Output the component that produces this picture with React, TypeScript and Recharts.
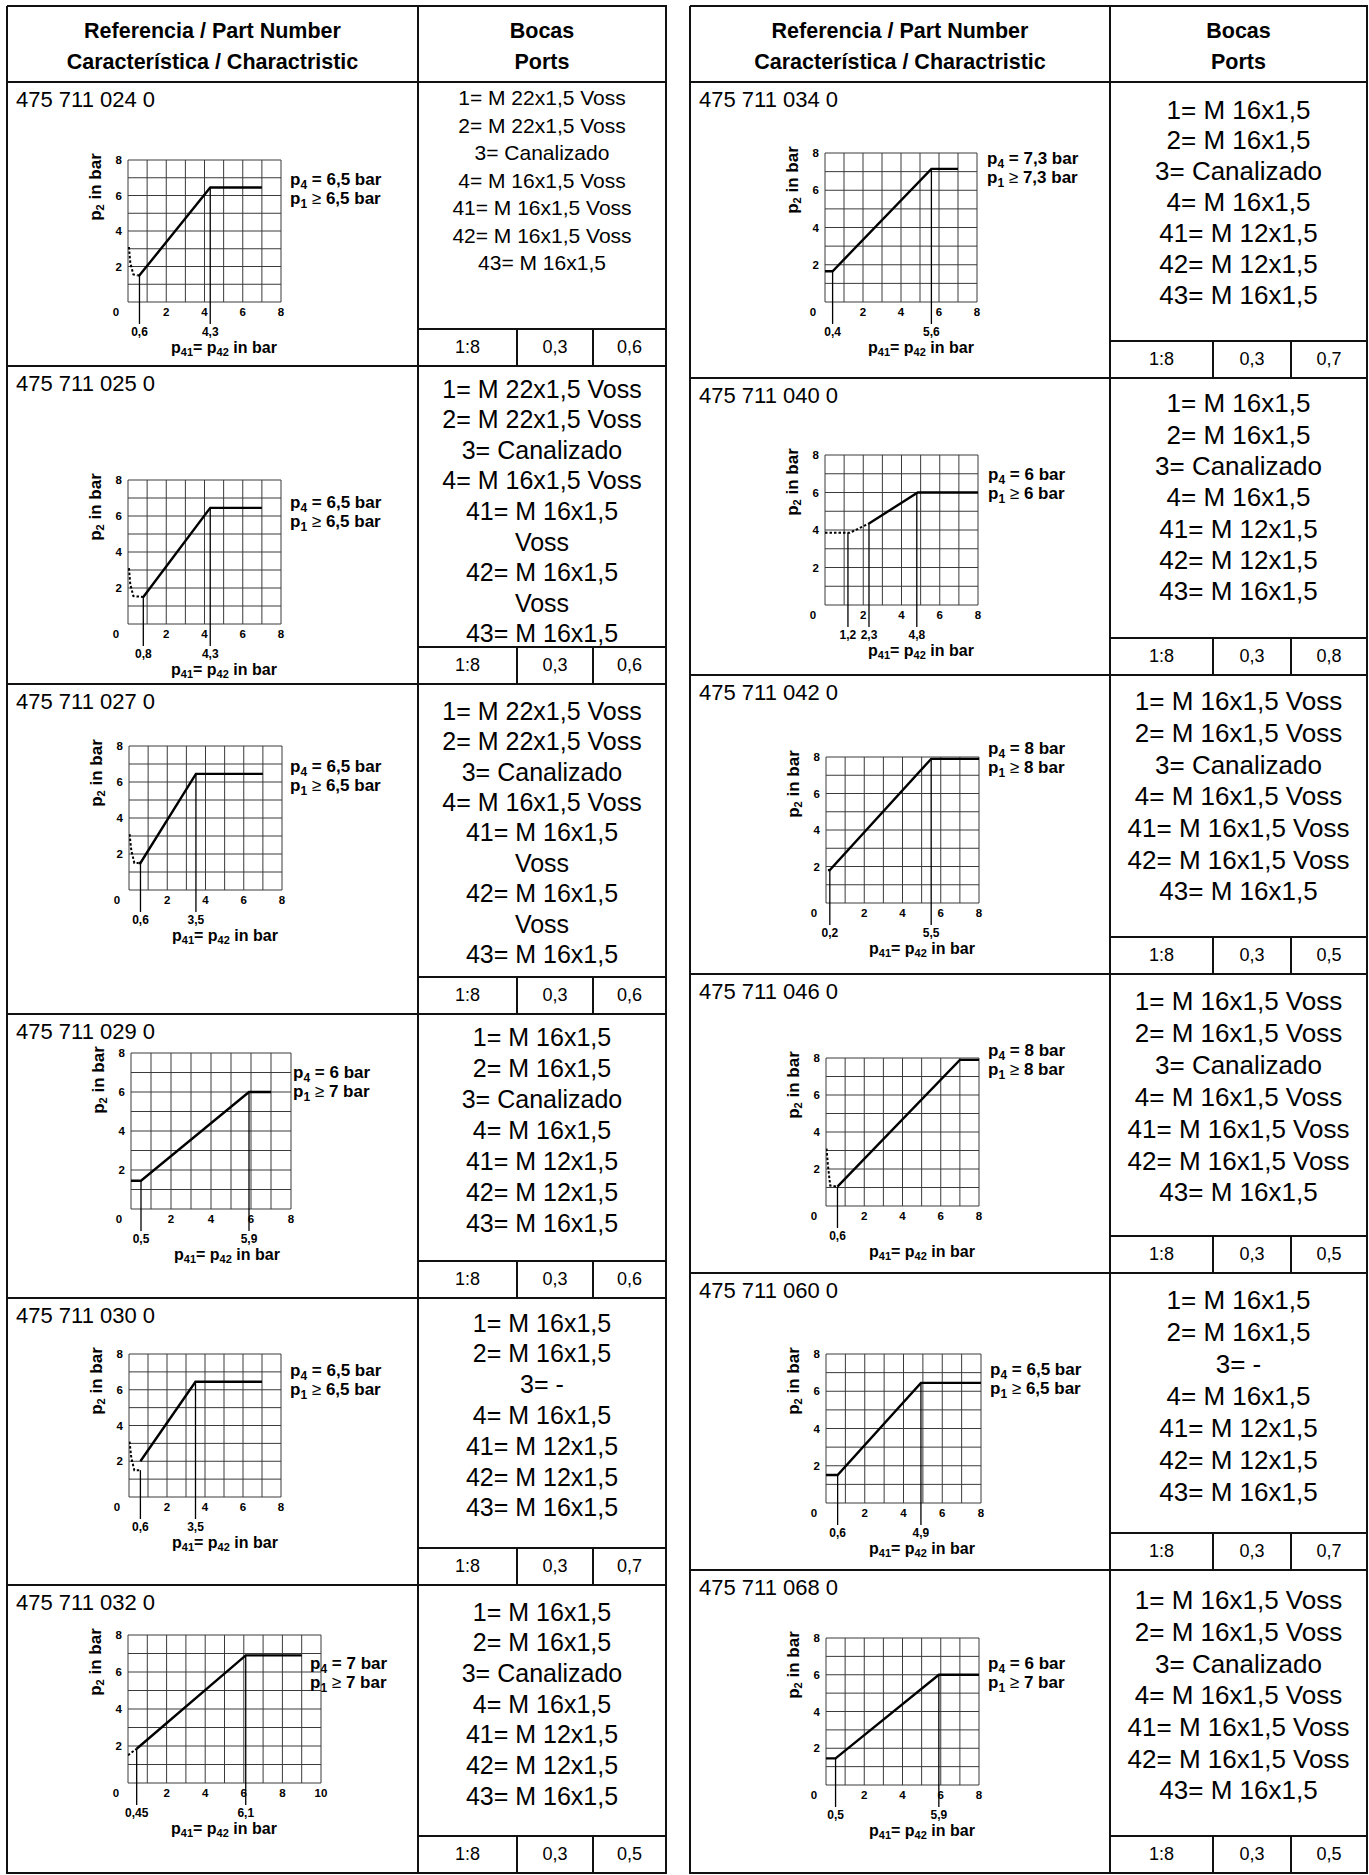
// @ts-nocheck
import React from 'react'
import { ComposedChart, Line, XAxis, YAxis, ReferenceLine } from 'recharts'

const FONT = '"Liberation Sans", Arial, Helvetica, sans-serif'

// ---- table content ----
const leftParts = ['475 711 024 0', '475 711 025 0', '475 711 027 0', '475 711 029 0', '475 711 030 0', '475 711 032 0']
const rightParts = ['475 711 034 0', '475 711 040 0', '475 711 042 0', '475 711 046 0', '475 711 060 0', '475 711 068 0']

const portsVoss22 = ['1= M 22x1,5 Voss', '2= M 22x1,5 Voss', '3= Canalizado', '4= M 16x1,5 Voss', '41= M 16x1,5 Voss', '42= M 16x1,5 Voss', '43= M 16x1,5']
const portsVoss22Wrapped = ['1= M 22x1,5 Voss', '2= M 22x1,5 Voss', '3= Canalizado', '4= M 16x1,5 Voss', '41= M 16x1,5', 'Voss', '42= M 16x1,5', 'Voss', '43= M 16x1,5']
const portsPlain = ['1= M 16x1,5', '2= M 16x1,5', '3= Canalizado', '4= M 16x1,5', '41= M 12x1,5', '42= M 12x1,5', '43= M 16x1,5']
const portsNoThree = ['1= M 16x1,5', '2= M 16x1,5', '3= -', '4= M 16x1,5', '41= M 12x1,5', '42= M 12x1,5', '43= M 16x1,5']
const portsVoss16 = ['1= M 16x1,5 Voss', '2= M 16x1,5 Voss', '3= Canalizado', '4= M 16x1,5 Voss', '41= M 16x1,5 Voss', '42= M 16x1,5 Voss', '43= M 16x1,5']

const leftPorts = [portsVoss22, portsVoss22Wrapped, portsVoss22Wrapped, portsPlain, portsNoThree, portsPlain]
const rightPorts = [portsPlain, portsPlain, portsVoss16, portsVoss16, portsNoThree, portsVoss16]

const ratioCells = ['1:8', '0,3']
const leftFactor = ['0,6', '0,6', '0,6', '0,6', '0,7', '0,5']
const rightFactor = ['0,7', '0,8', '0,5', '0,5', '0,7', '0,5']

const leftP4 = ['6,5', '6,5', '6,5', '6', '6,5', '7']
const leftP1 = ['6,5', '6,5', '6,5', '7', '6,5', '7']
const rightP4 = ['7,3', '6', '8', '8', '6,5', '6']
const rightP1 = ['7,3', '6', '8', '8', '6,5', '7']

// ---- chart values (p41 = p42 -> p2) ----
const yTicks = [2, 4, 6, 8]
const xTicks8 = [0, 2, 4, 6, 8]
const xTicks10 = [0, 2, 4, 6, 8, 10]
const gridY = [0, 1, 2, 3, 4, 5, 6, 7, 8]
const gridX8 = [0, 1, 2, 3, 4, 5, 6, 7, 8]
const gridX10 = [0, 1, 2, 3, 4, 5, 6, 7, 8, 9, 10]

const solid024 = [{ x: 0.5, y: 1.5 }, { x: 0.6, y: 1.5 }, { x: 4.3, y: 6.45 }, { x: 7, y: 6.45 }]
const dashed024 = [{ x: 0.05, y: 3.1 }, { x: 0.12, y: 2.2 }, { x: 0.28, y: 1.55 }, { x: 0.5, y: 1.5 }]
const knees024 = [{ x: 0.6, y: 1.5 }, { x: 4.3, y: 6.45 }]

const solid025 = [{ x: 0.8, y: 1.5 }, { x: 4.3, y: 6.45 }, { x: 7, y: 6.45 }]
const dashed025 = [{ x: 0.05, y: 3.1 }, { x: 0.12, y: 2.2 }, { x: 0.28, y: 1.55 }, { x: 0.8, y: 1.5 }]
const knees025 = [{ x: 0.8, y: 1.5 }, { x: 4.3, y: 6.45 }]

const solid027 = [{ x: 0.5, y: 1.5 }, { x: 0.6, y: 1.5 }, { x: 3.5, y: 6.45 }, { x: 7, y: 6.45 }]
const dashed027 = [{ x: 0.03, y: 3.1 }, { x: 0.12, y: 2.2 }, { x: 0.28, y: 1.5 }, { x: 0.5, y: 1.5 }]
const knees027 = [{ x: 0.6, y: 1.5 }, { x: 3.5, y: 6.45 }]

const solid029 = [{ x: 0, y: 1.45 }, { x: 0.5, y: 1.45 }, { x: 5.9, y: 6 }, { x: 7, y: 6 }]
const knees029 = [{ x: 0.5, y: 1.45 }, { x: 5.9, y: 6 }]

const solid030 = [{ x: 0.6, y: 2 }, { x: 3.5, y: 6.45 }, { x: 7, y: 6.45 }]
const dashed030 = [{ x: 0.03, y: 3.1 }, { x: 0.12, y: 2.2 }, { x: 0.28, y: 1.5 }, { x: 0.6, y: 1.5 }]
const knees030 = [{ x: 0.6, y: 1.5 }, { x: 3.5, y: 6.45 }]

const solid032 = [{ x: 0.45, y: 1.85 }, { x: 6.1, y: 6.9 }, { x: 9, y: 6.9 }]
const dashed032 = [{ x: 0, y: 1.5 }, { x: 0.45, y: 1.85 }]
const knees032 = [{ x: 0.45, y: 1.85 }, { x: 6.1, y: 6.9 }]

const solid034 = [{ x: 0, y: 1.65 }, { x: 0.4, y: 1.65 }, { x: 5.6, y: 7.15 }, { x: 7, y: 7.15 }]
const knees034 = [{ x: 0.4, y: 1.65 }, { x: 5.6, y: 7.15 }]

const solid040 = [{ x: 2.3, y: 4.35 }, { x: 4.85, y: 6 }, { x: 8, y: 6 }]
const dashed040 = [{ x: 0, y: 3.85 }, { x: 1.3, y: 3.85 }, { x: 2.3, y: 4.35 }]
const knees040 = [{ x: 1.2, y: 3.85 }, { x: 2.3, y: 4.35 }, { x: 4.8, y: 6 }]

const solid042 = [{ x: 0.1, y: 1.8 }, { x: 0.2, y: 1.8 }, { x: 5.5, y: 7.9 }, { x: 8, y: 7.9 }]
const knees042 = [{ x: 0.2, y: 1.8 }, { x: 5.5, y: 7.9 }]

const solid046 = [{ x: 0.6, y: 1.05 }, { x: 7, y: 7.9 }, { x: 8, y: 7.9 }]
const dashed046 = [{ x: 0.03, y: 3.1 }, { x: 0.1, y: 2.2 }, { x: 0.22, y: 1.1 }, { x: 0.6, y: 1.05 }]
const knees046 = [{ x: 0.6, y: 1.05 }]

const solid060 = [{ x: 0, y: 1.5 }, { x: 0.6, y: 1.5 }, { x: 4.9, y: 6.45 }, { x: 8, y: 6.45 }]
const knees060 = [{ x: 0.6, y: 1.5 }, { x: 4.9, y: 6.45 }]

const solid068 = [{ x: 0, y: 1.45 }, { x: 0.5, y: 1.45 }, { x: 5.9, y: 6 }, { x: 8, y: 6 }]
const knees068 = [{ x: 0.5, y: 1.45 }, { x: 5.9, y: 6 }]

const leftSolid = [solid024, solid025, solid027, solid029, solid030, solid032]
const leftDashed = [dashed024, dashed025, dashed027, null, dashed030, dashed032]
const leftKnees = [knees024, knees025, knees027, knees029, knees030, knees032]
const leftXMax = [8, 8, 8, 8, 8, 10]
const rightSolid = [solid034, solid040, solid042, solid046, solid060, solid068]
const rightDashed = [null, dashed040, null, dashed046, null, null]
const rightKnees = [knees034, knees040, knees042, knees046, knees060, knees068]
const rightXMax = [8, 8, 8, 8, 8, 8]

// ---- layout (page pixels) ----
const LEFT_X = [7, 418, 517, 593, 666]
const RIGHT_X = [690, 1110, 1213, 1291, 1367]
const TOP = 6
const HEAD = 82
const SUB_H = 37
const leftBottoms = [366, 684, 1014, 1298, 1585, 1873]
const rightBottoms = [378, 675, 974, 1273, 1570, 1873]
// grid box: left, right, top, bottom
const leftBoxes = [[128, 281, 160, 302], [128, 281, 480, 624], [129, 282, 746, 890], [131, 291, 1053, 1209], [129, 281, 1354, 1497], [128, 321, 1635, 1783]]
const rightBoxes = [[825, 977, 153, 302], [825, 978, 455, 605], [826, 979, 757, 903], [826, 979, 1058, 1206], [826, 981, 1354, 1503], [826, 979, 1638, 1785]]
const leftNote = [[9, 19], [9, 22], [8, 20], [2, 19], [9, 16], [-11, 28]]
const rightNote = [[10, 5], [10, 19], [9, -9], [9, -8], [9, 15], [9, 25]]
// font size, line height, first line centre offset
const leftPortsFmt = [[21, 27.5, 16], [25, 30.6, 23], [25, 30.4, 27], [25, 31, 23], [25, 30.8, 25], [25, 30.7, 27]]
const rightPortsFmt = [[26, 30.9, 28], [26, 31.3, 26], [26, 31.7, 27], [26, 31.9, 28], [26, 32, 27], [26, 31.7, 31]]

const ML = 52
const MT = 14
const MR = 10
const XH1 = 18
const XH2 = 56
const LINE = '#111'
const GRID = '#3a3a3a'

const fmt = (v) => String(v).replace('.', ',')

function YTitle({ viewBox }) {
  if (!viewBox) return null
  const cx = viewBox.x + viewBox.width - 33
  const cy = viewBox.y + 27
  return (
    <text x={cx} y={cy} transform={`rotate(-90 ${cx} ${cy})`} textAnchor="middle" dominantBaseline="central"
      fontFamily={FONT} fontWeight={700} fontSize={17} fill="#000">
      p<tspan dy={5} fontSize={11}>2</tspan><tspan dy={-5}>{' in bar'}</tspan>
    </text>
  )
}

function XTitle({ viewBox }) {
  if (!viewBox) return null
  const x0 = viewBox.x + 43
  const y0 = viewBox.y + 27
  return (
    <text x={x0} y={y0} dominantBaseline="central" fontFamily={FONT} fontWeight={700} fontSize={16} fill="#000">
      p<tspan dy={5} fontSize={11}>41</tspan><tspan dy={-5}>{'= p'}</tspan><tspan dy={5} fontSize={11}>42</tspan><tspan dy={-5}>{' in bar'}</tspan>
    </text>
  )
}

function PressureChart({ box, xMax, solid, dashed, knees }) {
  const [gl, gr, gt, gb] = box
  const plotW = gr - gl
  const plotH = gb - gt
  const below = -22 / (plotH / 8)
  const gridX = xMax === 10 ? gridX10 : gridX8
  return (
    <div style={{ position: 'absolute', left: gl - ML, top: gt - MT }}>
      <ComposedChart width={ML + plotW + MR} height={MT + plotH + XH1 + XH2} margin={{ top: MT, right: MR, left: 0, bottom: 0 }}>
        <XAxis type="number" dataKey="x" domain={[0, xMax]} ticks={xMax === 10 ? xTicks10 : xTicks8} interval={0}
          allowDataOverflow axisLine={false} tickLine={false} tickSize={0} tickMargin={0} height={XH1}
          tick={({ x, y, payload }) => (
            <text x={payload.value === 0 ? x - 12 : x} y={y + 10} textAnchor="middle" dominantBaseline="central"
              fontFamily={FONT} fontWeight={700} fontSize={11.5} fill="#000">{payload.value}</text>
          )} />
        <XAxis xAxisId="k" type="number" dataKey="x" domain={[0, xMax]} ticks={knees.map((k) => k.x)} interval={0}
          allowDataOverflow axisLine={false} tickLine={false} tickSize={0} tickMargin={0} height={XH2}
          tick={({ x, y, payload }) => (
            <text x={x} y={y + 12} textAnchor="middle" dominantBaseline="central"
              fontFamily={FONT} fontWeight={700} fontSize={12} fill="#000">{fmt(payload.value)}</text>
          )}
          label={<XTitle />} />
        <YAxis type="number" domain={[0, 8]} ticks={yTicks} interval={0} width={ML} allowDataOverflow
          axisLine={false} tickLine={false} tickSize={0} tickMargin={0}
          tick={({ x, y, payload }) => (
            <text x={x - 6} y={y} textAnchor="end" dominantBaseline="central"
              fontFamily={FONT} fontWeight={700} fontSize={11.5} fill="#000">{payload.value}</text>
          )}
          label={<YTitle />} />
        {gridX.map((v) => (
          <ReferenceLine key={'gx' + v} x={v} stroke={GRID} strokeWidth={1} />
        ))}
        {gridY.map((v) => (
          <ReferenceLine key={'gy' + v} y={v} stroke={GRID} strokeWidth={1} />
        ))}
        {knees.map((k) => (
          <ReferenceLine key={'k' + k.x} xAxisId="k" ifOverflow="visible" stroke="#000" strokeWidth={1.3}
            segment={[{ x: k.x, y: k.y }, { x: k.x, y: below }]} />
        ))}
        {dashed && (
          <Line data={dashed} dataKey="y" type="linear" stroke="#000" strokeWidth={2} strokeDasharray="2.5 2"
            dot={false} activeDot={false} isAnimationActive={false} />
        )}
        <Line data={solid} dataKey="y" type="linear" stroke="#000" strokeWidth={2.4}
          dot={false} activeDot={false} isAnimationActive={false} />
      </ComposedChart>
    </div>
  )
}

const subStyle = { fontSize: 12, position: 'relative', top: 4 }

function PressureNote({ left, top, p4, p1 }) {
  return (
    <div style={{ position: 'absolute', left, top, fontFamily: FONT, fontWeight: 700, fontSize: 17, lineHeight: '17px', whiteSpace: 'nowrap', color: '#000' }}>
      <div>p<span style={subStyle}>4</span> = {p4} bar</div>
      <div>p<span style={subStyle}>1</span> <span style={{ fontWeight: 400 }}>≥</span> {p1} bar</div>
    </div>
  )
}

const HLine = ({ x1, x2, y }) => <div style={{ position: 'absolute', left: x1, top: y - 1, width: x2 - x1 + 1, height: 2, background: LINE }} />
const VLine = ({ x, y1, y2 }) => <div style={{ position: 'absolute', left: x - 1, top: y1, width: 2, height: y2 - y1 + 1, background: LINE }} />

function CenterText({ x1, x2, y, size, bold, children }) {
  return (
    <div style={{ position: 'absolute', left: x1, width: x2 - x1, top: y - size * 0.6, height: size * 1.2, lineHeight: size * 1.2 + 'px',
      textAlign: 'center', fontFamily: FONT, fontSize: size, fontWeight: bold ? 700 : 400, color: '#000', whiteSpace: 'nowrap' }}>
      {children}
    </div>
  )
}

function Table({ X, bottoms, parts, ports, portsFmt, factor, boxes, notes, p4, p1, solids, dashes, knees, xMax }) {
  const out = []
  const bottom = bottoms[bottoms.length - 1]
  out.push(<HLine key="top" x1={X[0]} x2={X[4]} y={TOP} />)
  out.push(<HLine key="head" x1={X[0]} x2={X[4]} y={HEAD} />)
  out.push(<VLine key="l" x={X[0]} y1={TOP} y2={bottom} />)
  out.push(<VLine key="m" x={X[1]} y1={TOP} y2={bottom} />)
  out.push(<VLine key="r" x={X[4]} y1={TOP} y2={bottom} />)
  out.push(<CenterText key="h1" x1={X[0]} x2={X[1]} y={32} size={21.5} bold>Referencia / Part Number</CenterText>)
  out.push(<CenterText key="h2" x1={X[0]} x2={X[1]} y={63} size={21.5} bold>Característica / Charactristic</CenterText>)
  out.push(<CenterText key="h3" x1={X[1]} x2={X[4]} y={32} size={21.5} bold>Bocas</CenterText>)
  out.push(<CenterText key="h4" x1={X[1]} x2={X[4]} y={63} size={21.5} bold>Ports</CenterText>)
  bottoms.forEach((b, i) => {
    const top = i === 0 ? HEAD : bottoms[i - 1]
    const sub = b - SUB_H
    out.push(<HLine key={'rb' + i} x1={X[0]} x2={X[4]} y={b} />)
    out.push(<HLine key={'sb' + i} x1={X[1]} x2={X[4]} y={sub} />)
    out.push(<VLine key={'s1' + i} x={X[2]} y1={sub} y2={b} />)
    out.push(<VLine key={'s2' + i} x={X[3]} y1={sub} y2={b} />)
    const subY = (sub + b) / 2
    out.push(<CenterText key={'r1' + i} x1={X[1]} x2={X[2]} y={subY} size={18}>{ratioCells[0]}</CenterText>)
    out.push(<CenterText key={'r2' + i} x1={X[2]} x2={X[3]} y={subY} size={18}>{ratioCells[1]}</CenterText>)
    out.push(<CenterText key={'r3' + i} x1={X[3]} x2={X[4]} y={subY} size={18}>{factor[i]}</CenterText>)
    out.push(
      <div key={'pn' + i} style={{ position: 'absolute', left: X[0] + 9, top: top + 7, fontFamily: FONT, fontSize: 22, lineHeight: '22px', color: '#000', whiteSpace: 'nowrap' }}>
        {parts[i]}
      </div>
    )
    const [fs, lh, off] = portsFmt[i]
    out.push(
      <div key={'po' + i} style={{ position: 'absolute', left: X[1], width: X[4] - X[1], top: top + off - lh / 2, textAlign: 'center',
        fontFamily: FONT, fontSize: fs, lineHeight: lh + 'px', color: '#000', whiteSpace: 'nowrap' }}>
        {ports[i].map((t, j) => <div key={j}>{t}</div>)}
      </div>
    )
    const box = boxes[i]
    out.push(<PressureChart key={'c' + i} box={box} xMax={xMax[i]} solid={solids[i]} dashed={dashes[i]} knees={knees[i]} />)
    out.push(<PressureNote key={'n' + i} left={box[1] + notes[i][0]} top={box[2] + notes[i][1] - 8.5} p4={p4[i]} p1={p1[i]} />)
  })
  return out
}

export default function App() {
  return (
    <div style={{ position: 'absolute', left: 0, top: 0, width: 1369, height: 1875, background: '#fff', overflow: 'hidden' }}>
      <Table X={LEFT_X} bottoms={leftBottoms} parts={leftParts} ports={leftPorts} portsFmt={leftPortsFmt} factor={leftFactor}
        boxes={leftBoxes} notes={leftNote} p4={leftP4} p1={leftP1} solids={leftSolid} dashes={leftDashed} knees={leftKnees} xMax={leftXMax} />
      <Table X={RIGHT_X} bottoms={rightBottoms} parts={rightParts} ports={rightPorts} portsFmt={rightPortsFmt} factor={rightFactor}
        boxes={rightBoxes} notes={rightNote} p4={rightP4} p1={rightP1} solids={rightSolid} dashes={rightDashed} knees={rightKnees} xMax={rightXMax} />
    </div>
  )
}
